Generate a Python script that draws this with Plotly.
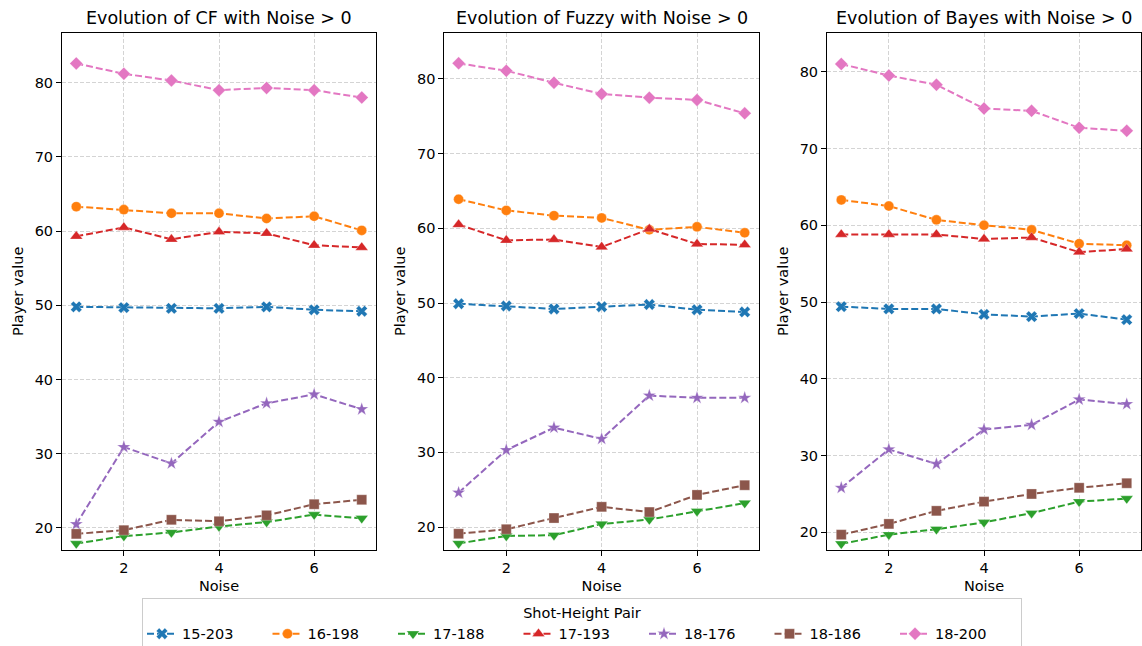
import plotly.graph_objects as go

noise = [1, 2, 3, 4, 5, 6, 7]
pairs = ["15-203", "16-198", "17-188", "17-193", "18-176", "18-186", "18-200"]
methods = ["CF", "Fuzzy", "Bayes"]

cf_15_203 = [49.8, 49.7, 49.6, 49.6, 49.8, 49.4, 49.2]
cf_16_198 = [63.3, 62.9, 62.4, 62.4, 61.7, 62.0, 60.1]
cf_17_188 = [17.9, 18.9, 19.4, 20.2, 20.8, 21.8, 21.3]
cf_17_193 = [59.3, 60.5, 58.9, 59.9, 59.7, 58.1, 57.8]
cf_18_176 = [20.5, 30.9, 28.7, 34.3, 36.8, 38.0, 36.0]
cf_18_186 = [19.2, 19.7, 21.1, 20.9, 21.7, 23.2, 23.8]
cf_18_200 = [82.6, 81.2, 80.3, 79.0, 79.3, 79.0, 78.0]

fz_15_203 = [49.9, 49.6, 49.2, 49.5, 49.8, 49.1, 48.8]
fz_16_198 = [63.9, 62.4, 61.7, 61.4, 59.8, 60.2, 59.4]
fz_17_188 = [17.8, 18.8, 18.9, 20.4, 21.0, 22.1, 23.2]
fz_17_193 = [60.5, 58.4, 58.5, 57.5, 59.9, 57.9, 57.8]
fz_18_176 = [24.6, 30.3, 33.3, 31.8, 37.6, 37.3, 37.3]
fz_18_186 = [19.1, 19.7, 21.2, 22.7, 22.0, 24.3, 25.6]
fz_18_200 = [82.1, 81.1, 79.5, 78.0, 77.5, 77.2, 75.4]

by_15_203 = [49.4, 49.1, 49.1, 48.4, 48.1, 48.5, 47.7]
by_16_198 = [63.3, 62.5, 60.7, 60.0, 59.4, 57.6, 57.4]
by_17_188 = [18.5, 19.7, 20.4, 21.3, 22.5, 24.0, 24.4]
by_17_193 = [58.8, 58.8, 58.8, 58.2, 58.4, 56.5, 56.9]
by_18_176 = [25.8, 30.8, 28.9, 33.4, 34.0, 37.3, 36.7]
by_18_186 = [19.7, 21.1, 22.8, 24.0, 25.0, 25.8, 26.4]
by_18_200 = [81.0, 79.5, 78.3, 75.2, 74.9, 72.7, 72.3]

data = {
    "CF": [cf_15_203, cf_16_198, cf_17_188, cf_17_193, cf_18_176, cf_18_186, cf_18_200],
    "Fuzzy": [fz_15_203, fz_16_198, fz_17_188, fz_17_193, fz_18_176, fz_18_186, fz_18_200],
    "Bayes": [by_15_203, by_16_198, by_17_188, by_17_193, by_18_176, by_18_186, by_18_200],
}

colors = ["#1f77b4", "#ff7f0e", "#2ca02c", "#d62728", "#9467bd", "#8c564b", "#e377c2"]
symbols = ["x", "circle", "triangle-down", "triangle-up", "star", "square", "diamond"]
sizes = [10, 10, 11, 11, 10, 10, 10]

W, H = 1142, 646
x_px = [(62, 376), (444.3, 759), (827, 1141)]
y_ranges = [[17.03, 86.74], [16.92, 86.2], [17.7, 85.08]]
ydom = [1 - 550 / H, 1 - 32.7 / H]

fig = go.Figure()
font = "DejaVu Sans, Verdana, sans-serif"
FS = 14.5

for i, m in enumerate(methods):
    xa = "x" if i == 0 else f"x{i+1}"
    ya = "y" if i == 0 else f"y{i+1}"
    for j, p in enumerate(pairs):
        fig.add_trace(go.Scatter(
            x=noise, y=data[m][j], name=p, mode="lines+markers",
            line=dict(color=colors[j], width=2, dash="7px,3px"),
            marker=dict(symbol=symbols[j], size=sizes[j], color=colors[j],
                        line=dict(width=0.6, color="rgba(255,255,255,0.5)")),
            xaxis=xa, yaxis=ya, showlegend=(i == 0), legendgroup=p,
        ))
    axcommon = dict(showline=True, linecolor="black", linewidth=1, mirror=True,
                    ticks="outside", ticklen=5, tickcolor="black",
                    showgrid=True, gridcolor="#d4d4d4", griddash="4px,2px",
                    gridwidth=1, zeroline=False,
                    tickfont=dict(size=FS, color="black", family=font))
    fig.layout[f"xaxis{'' if i == 0 else i+1}"] = dict(
        domain=[x_px[i][0] / W, x_px[i][1] / W], anchor=ya, range=[0.7, 7.3],
        tickvals=[2, 4, 6],
        title=dict(text="Noise", font=dict(size=FS, color="black", family=font), standoff=5),
        **axcommon)
    fig.layout[f"yaxis{'' if i == 0 else i+1}"] = dict(
        domain=ydom, anchor=xa, range=y_ranges[i], tickvals=[20, 30, 40, 50, 60, 70, 80],
        title=dict(text="Player value", font=dict(size=FS, color="black", family=font), standoff=7),
        **axcommon)
    fig.add_annotation(text=f"Evolution of {m} with Noise > 0",
                       x=(x_px[i][0] + x_px[i][1]) / 2 / W, y=1 - 32.7 / H,
                       xref="paper", yref="paper", xanchor="center", yanchor="bottom",
                       yshift=3, showarrow=False,
                       font=dict(size=17.5, color="black", family=font))

fig.update_layout(
    width=W, height=H,
    margin=dict(l=0, r=0, t=0, b=0, autoexpand=False),
    paper_bgcolor="white", plot_bgcolor="white",
    font=dict(family=font, color="black"),
    legend=dict(orientation="h", x=582 / W, xanchor="center", y=1 - 598 / H, yanchor="top",
                title=dict(text="Shot-Height Pair", side="top center",
                           font=dict(size=FS, family=font)),
                font=dict(size=FS, family=font),
                bordercolor="#cccccc", borderwidth=1, bgcolor="white",
                entrywidth=80.5, entrywidthmode="pixels", itemwidth=30),
)

fig.write_html("out.html", config={"displayModeBar": False},
               post_script="document.body.style.margin='0';document.body.style.overflow='hidden';")
